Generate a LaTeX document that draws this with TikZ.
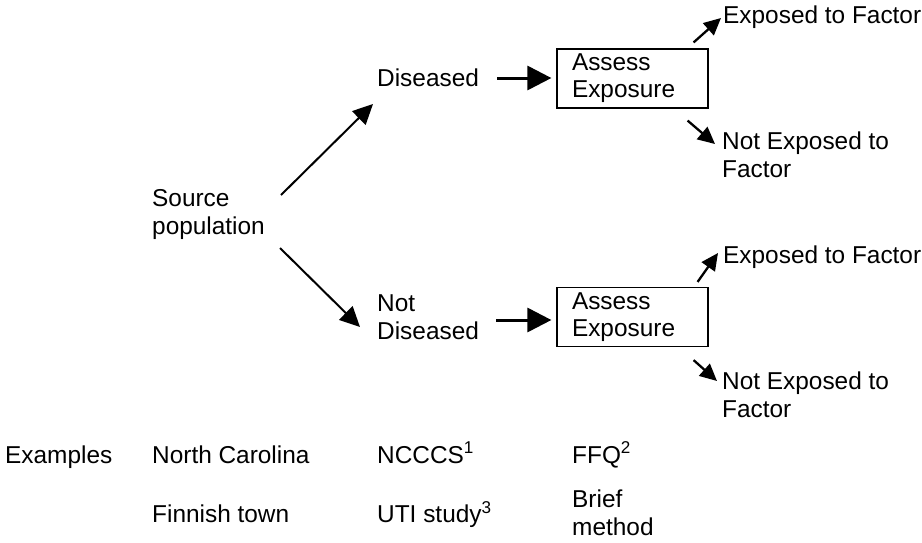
\documentclass[tikz,border=0pt]{standalone}
\usepackage{fontspec}
\setmainfont{Liberation Sans}
\usetikzlibrary{arrows.meta,calc}
\begin{document}
\begin{tikzpicture}[x=1pt,y=-1pt,
  txt/.style={inner sep=0pt,align=left,font=\fontsize{24.4}{28}\selectfont},
  one/.style={txt,anchor=base west},
  multi/.style={txt,anchor=north west},
  boxn/.style={draw,line width=1.2pt,minimum width=151pt,minimum height=59pt,
    text width=121pt,inner xsep=15pt,inner ysep=0pt,align=left,
    font=\fontsize{24.4}{27}\selectfont},
  diag/.style={line width=2pt,-{Triangle[length=20pt,width=19pt]}},
  harr/.style={line width=3pt,-{Triangle[length=24pt,width=24pt]}},
  sarr/.style={line width=2.3pt,-{Triangle[length=17pt,width=16pt]}}]
\useasboundingbox (0,0) rectangle (922,542);

\node[multi] (src) at (152,189.3) {Source\\population};
\node[one] (dis) at (377,86.7) {Diseased};
\node[multi] (ndis) at (377,294.3) {Not\\Diseased};

\node[boxn] (box1) at (632.5,78.5) {Assess\\Exposure};
\node[boxn] (box2) at (632.5,317) {Assess\\Exposure};

\node[one] (exp1) at (723,23.7) {Exposed to Factor};
\node[multi] (nexp1) at (722,131.3) {Not Exposed to\\Factor};
\node[one] (exp2) at (723,263.7) {Exposed to Factor};
\node[multi] (nexp2) at (722,371.3) {Not Exposed to\\Factor};

\node[one] (ex) at (5,463) {Examples};
\node[one] (nc) at (152,463) {North Carolina};
\node[one] (ncccs) at (377,463) {NCCCS\textsuperscript{1}};
\node[one] (ffq) at (572,463) {FFQ\textsuperscript{2}};
\node[one] (fin) at (152,522.5) {Finnish town};
\node[one] (uti) at (377,522.5) {UTI study\textsuperscript{3}};
\node[multi] (brief) at (572,489.3) {Brief\\method};

\draw[diag] ($(src.north west)+(129,5.7)$) -- ($(dis.base west)+(-4,17.3)$);
\draw[diag] ($(src.north west)+(128,58.7)$) -- ($(ndis.north west)+(-17,32.7)$);

\draw[harr] ($(dis.base east)+(18,-8.7)$) -- ($(box1.west)+(-5,-0.5)$);
\draw[harr] ($(box2.west)+(-60,3)$) -- ($(box2.west)+(-5,3)$);

\draw[sarr] ($(box1.north east)+(-15,-6)$) -- ($(exp1.base west)+(-2,-5.7)$);
\draw[sarr] ($(box1.south east)+(-21,12)$) -- ($(nexp1.north west)+(-7,12.7)$);
\draw[sarr] ($(box2.north east)+(-11,-5)$) -- ($(exp2.base west)+(-5,-10.7)$);
\draw[sarr] ($(box2.south east)+(-15,13)$) -- ($(nexp2.north west)+(-5,9.7)$);
\end{tikzpicture}
\end{document}
